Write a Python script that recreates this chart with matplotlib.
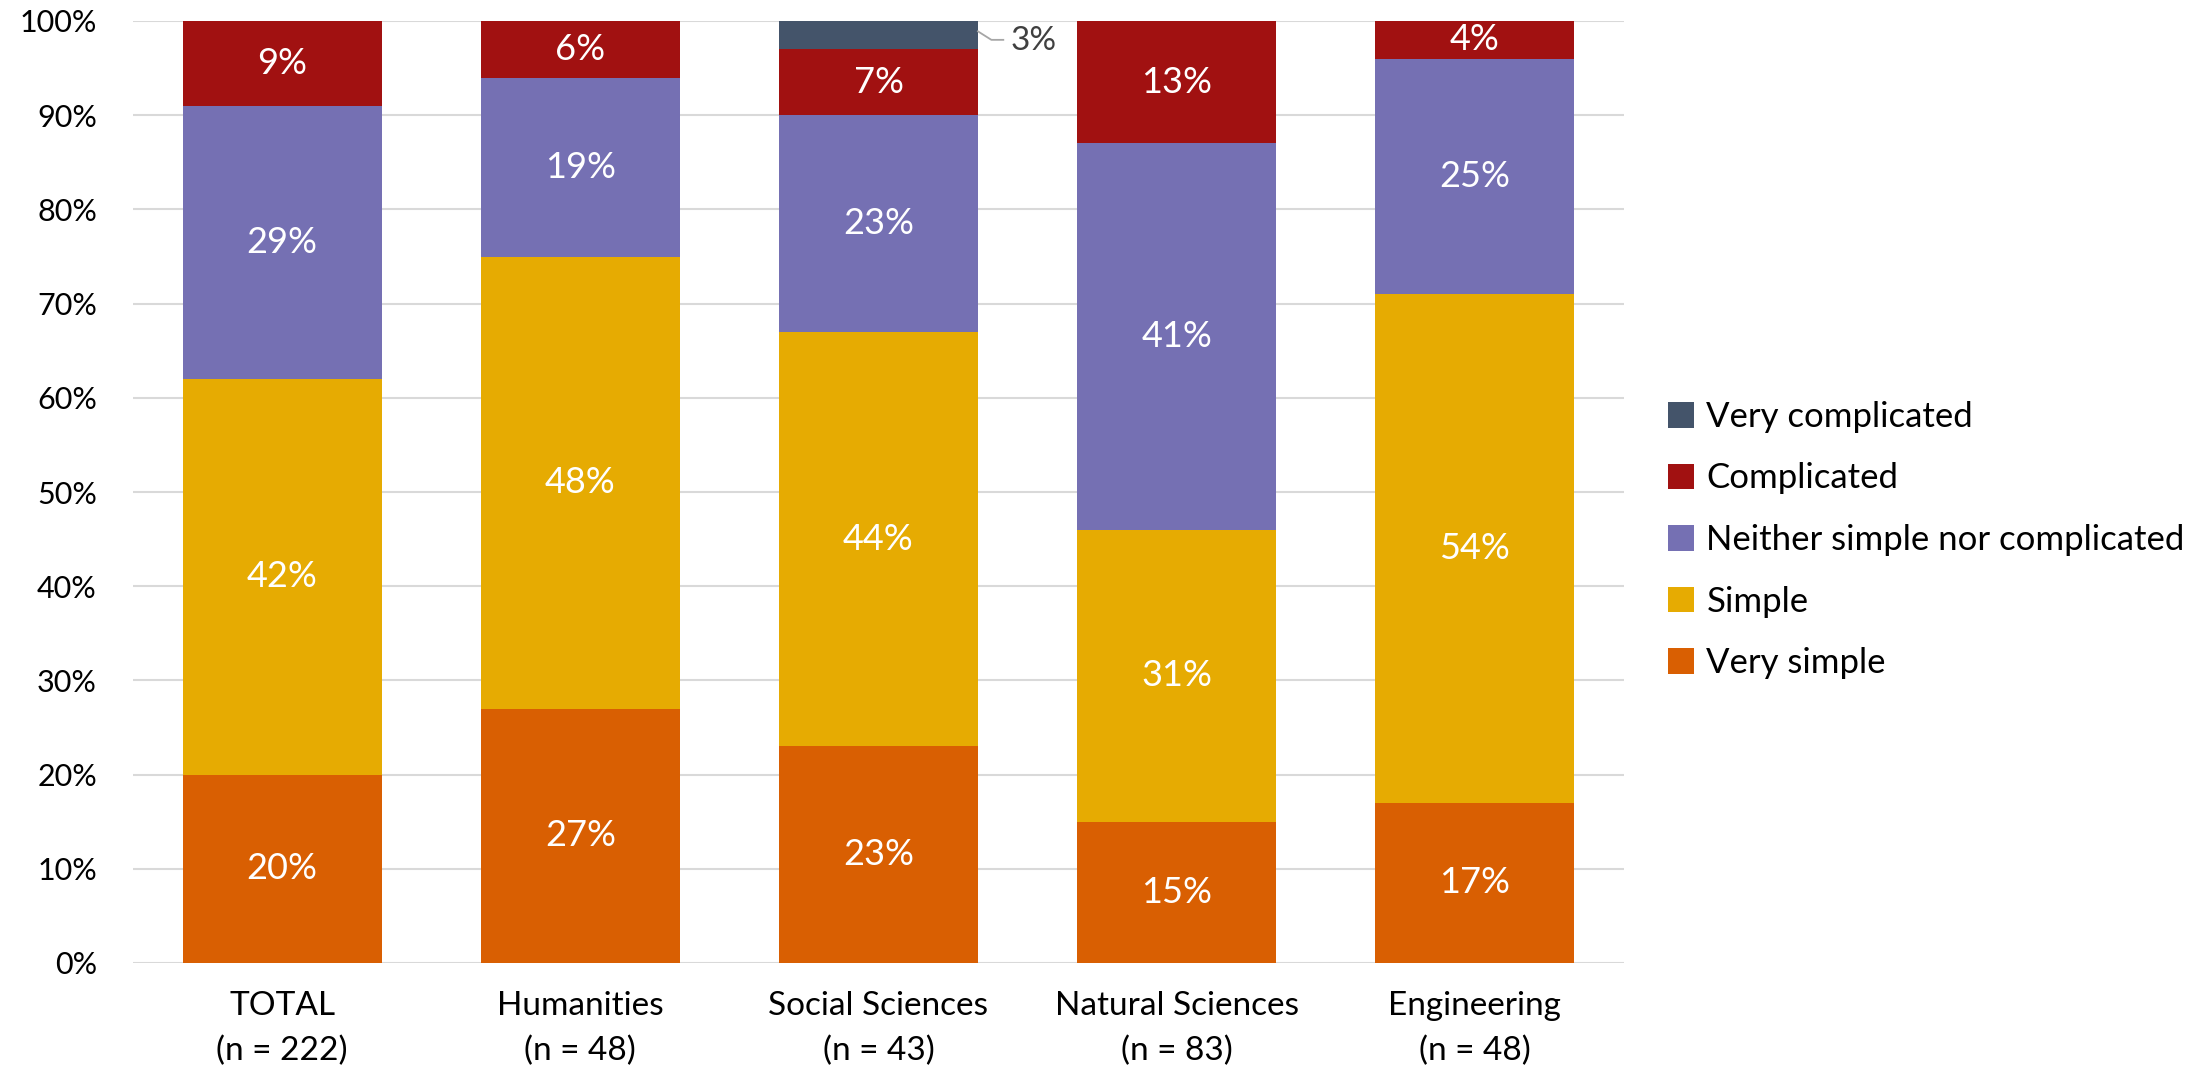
import matplotlib.pyplot as plt
import numpy as np

# survey shares per faculty, in percent
groups = ['TOTAL\n(n = 222)', 'Humanities\n(n = 48)', 'Social Sciences\n(n = 43)',
          'Natural Sciences\n(n = 83)', 'Engineering\n(n = 48)']
very_simple = [20, 27, 23, 15, 17]
simple = [42, 48, 44, 31, 54]
neither = [29, 19, 23, 41, 25]
complicated = [9, 6, 7, 13, 4]
very_complicated = [0, 0, 3, 0, 0]

series = [
    ('Very simple', very_simple, '#D95F02'),
    ('Simple', simple, '#E6AB02'),
    ('Neither simple nor complicated', neither, '#7570B3'),
    ('Complicated', complicated, '#A11111'),
    ('Very complicated', very_complicated, '#44546A'),
]

plt.rcParams['font.family'] = ['Lato', 'DejaVu Sans']

fig = plt.figure(figsize=(22.03, 10.76), dpi=100)
ax = fig.add_axes([133 / 2203, 1 - 963 / 1076, (1624 - 133) / 2203, (963 - 21) / 1076])

x = np.arange(len(groups))
bottom = np.zeros(len(groups))
handles = []
for name, vals, col in series:
    vals = np.array(vals, dtype=float)
    b = ax.bar(x, vals, 0.667, bottom=bottom, color=col, label=name, zorder=2)
    handles.append(b)
    for xi, v, b0 in zip(x, vals, bottom):
        if v >= 4:
            ax.text(xi, b0 + v / 2, f'{v:.0f}%', ha='center', va='center',
                    color='white', fontsize=26, zorder=3)
        elif v > 0:
            # small slice: label outside with a leader line
            xr = xi + 0.667 / 2
            yc = b0 + v / 2
            ax.plot([xr, xr + 0.045, xr + 0.085], [yc + 0.4, yc - 0.5, yc - 0.5],
                    color='#A6A6A6', lw=1.3, clip_on=False, zorder=3)
            ax.text(xr + 0.11, yc - 0.6, f'{v:.0f}%', ha='left', va='center',
                    color='#404040', fontsize=24, zorder=3)
    bottom += vals

ax.set_xlim(-0.5, len(groups) - 0.5)
ax.set_ylim(0, 100)
ax.set_yticks(np.arange(0, 101, 10))
ax.set_yticklabels([f'{t}%' for t in range(0, 101, 10)], fontsize=22)
ax.set_xticks(x)
ax.set_xticklabels(groups, linespacing=1.6, fontsize=24)
ax.tick_params(axis='both', length=0)
ax.tick_params(axis='y', pad=26)
ax.tick_params(axis='x', pad=20)
ax.grid(axis='y', color='#D9D9D9', lw=1.5, zorder=0)
ax.set_axisbelow(True)
for s in ax.spines.values():
    s.set_visible(False)

fig.legend(handles[::-1], [s[0] for s in series][::-1], loc='center left',
           bbox_to_anchor=(1637 / 2203, 1 - 540 / 1076), frameon=False,
           fontsize=25, handlelength=0.75, handleheight=0.75, handletextpad=0.35,
           labelspacing=0.85)

fig.savefig('out.png', dpi=100)
